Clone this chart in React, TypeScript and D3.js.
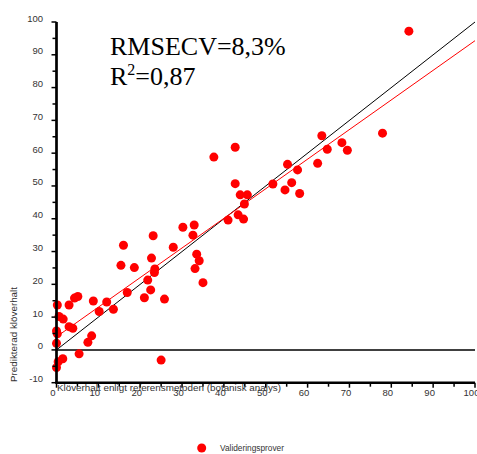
import React from "react";
import * as d3 from "d3";

// reference value (x) vs predicted value (y)
const refValues = [
  0.2, 0.6, 1.6, 3.0, 4.3, 5.1, 3.0, 3.9, 0.0, 0.2, 0.0, 8.8, 10.2, 12.0, 13.6, 16.9,
  8.4, 7.5, 5.4, 1.5, 0.4, 0.0,
  30.2, 32.9, 23.1, 32.6, 16.0, 27.9, 33.5, 34.1, 22.7, 15.4, 18.6, 23.5, 23.4, 33.1,
  35.0, 21.8, 22.5, 21.0, 25.8, 25.0,
  42.7, 37.6, 55.2, 57.6, 62.4, 42.7, 51.7, 56.2, 54.6, 58.1, 43.9, 45.6, 44.9, 43.4,
  41.0, 44.7,
  84.2, 77.9, 63.4, 68.2, 64.7, 69.5,
];
const predValues = [
  13.7, 10.2, 9.4, 13.7, 15.8, 16.3, 7.1, 6.6, 5.8, 4.9, 2.0, 14.9, 11.7, 14.6, 12.4, 17.5,
  4.3, 2.3, -1.2, -2.7, -3.6, -5.4,
  37.4, 38.1, 34.8, 35.0, 31.9, 31.3, 29.2, 27.2, 28.0, 25.8, 25.1, 24.7, 23.6, 24.8,
  20.5, 21.3, 18.3, 15.9, 15.5, -3.1,
  61.8, 58.8, 56.6, 54.9, 56.9, 50.7, 50.6, 51.0, 48.8, 47.7, 47.3, 47.3, 44.5, 41.2,
  39.6, 39.9,
  97.2, 66.1, 65.3, 63.2, 61.2, 60.9,
];

const xTicks = [0, 10, 20, 30, 40, 50, 60, 70, 80, 90, 100];
const yTicks = [-10, 0, 10, 20, 30, 40, 50, 60, 70, 80, 90, 100];

// fitted line: pred = a + b * ref
const fitIntercept = 4.0;
const fitSlope = 0.903;

const xTitle = "Klöverhalt enligt referensmetoden (botanisk analys)";
const yTitle = "Predikterad klöverhalt";
const legendLabel = "Valideringsprover";

export default function App() {
  const width = 477;
  const height = 454;
  const x = d3.scaleLinear().domain([0, 100]).range([56.5, 475]);
  const y = d3.scaleLinear().domain([-10, 100]).range([382.7, 22]);

  const points = refValues.map((r, i) => ({ r, p: predValues[i] }));
  const minorX = d3.range(0, 101, 5);
  const minorY = d3.range(-10, 101, 5);
  const tickFont = { fontFamily: "'Liberation Sans', Arial, sans-serif", fontSize: 9.5, fill: "#333" };

  const line = d3
    .line<[number, number]>()
    .x((d) => x(d[0]))
    .y((d) => y(d[1]));

  return (
    <svg
      width={width}
      height={height}
      style={{ position: "absolute", left: 0, top: 0, background: "#fff" }}
    >
      {/* zero line */}
      <line x1={x(0)} x2={x(100)} y1={y(0)} y2={y(0)} stroke="#000" strokeWidth={1.5} />

      {/* 1:1 line and fitted line */}
      <path d={line([[0, 0], [100, 100]]) || ""} stroke="#000" strokeWidth={1} fill="none" />
      <path
        d={line([[0, fitIntercept], [100, fitIntercept + fitSlope * 100]]) || ""}
        stroke="#ff0000"
        strokeWidth={1}
        fill="none"
      />

      {points.map((d, i) => (
        <circle key={i} cx={x(d.r)} cy={y(d.p)} r={4.5} fill="#ff0000" />
      ))}

      {/* y axis */}
      <line x1={x(0)} x2={x(0)} y1={y(100)} y2={y(-10)} stroke="#000" strokeWidth={2.7} />
      {minorY.map((v) => (
        <line key={v} x1={x(0) - (v % 10 === 0 ? 5 : 4)} x2={x(0)} y1={y(v)} y2={y(v)} stroke="#000" strokeWidth={1.5} />
      ))}
      {yTicks.map((v) => (
        <text key={v} x={43} y={y(v) - 0.5} textAnchor="end" {...tickFont}>
          {v}
        </text>
      ))}

      {/* x axis */}
      <line x1={x(0) - 1.3} x2={x(100)} y1={y(-10)} y2={y(-10)} stroke="#000" strokeWidth={2.5} />
      {minorX.map((v) => (
        <line key={v} x1={x(v)} x2={x(v)} y1={y(-10)} y2={y(-10) + (v % 10 === 0 ? 5 : 4)} stroke="#000" strokeWidth={1.5} />
      ))}
      {xTicks.map((v) => (
        <text key={v} x={x(v) - 3.5} y={395.5} textAnchor="middle" {...tickFont}>
          {v}
        </text>
      ))}

      {/* axis titles */}
      <text x={57} y={391} textLength={224} lengthAdjust="spacingAndGlyphs" {...tickFont}>
        {xTitle}
      </text>
      <text
        transform="translate(16.5,334.5) rotate(-90)"
        textAnchor="middle"
        textLength={95}
        lengthAdjust="spacingAndGlyphs"
        {...tickFont}
      >
        {yTitle}
      </text>

      {/* statistics */}
      <text x={110} y={55} fontFamily="'Liberation Serif', 'Times New Roman', serif" fontSize={26} fill="#000">
        RMSECV=8,3%
      </text>
      <text x={110} y={85} fontFamily="'Liberation Serif', 'Times New Roman', serif" fontSize={26} fill="#000">
        R
        <tspan fontSize={16} dy={-10}>2</tspan>
        <tspan dy={10}>=0,87</tspan>
      </text>

      {/* legend */}
      <circle cx={201.7} cy={448} r={4.5} fill="#ff0000" />
      <text x={220} y={451} fontFamily="'Liberation Sans', Arial, sans-serif" fontSize={8.3} fill="#333">
        {legendLabel}
      </text>
    </svg>
  );
}
